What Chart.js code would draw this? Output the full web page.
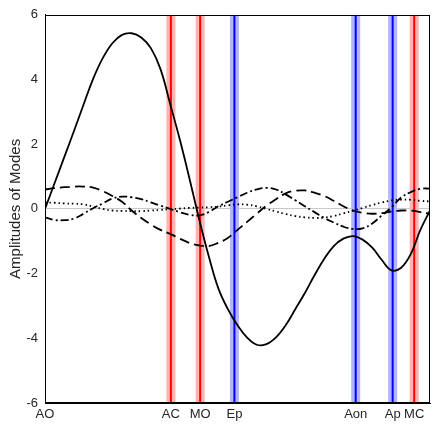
<!DOCTYPE html>
<html>
<head>
<meta charset="utf-8">
<script src="https://cdn.jsdelivr.net/npm/chart.js@4"></script>
<style>
  html, body { margin: 0; padding: 0; background: #fff; }
  #wrap { width: 434px; height: 426px; }
</style>
</head>
<body>
<div id="wrap"><canvas id="myChart" width="434" height="426"></canvas></div>
<script>
// position along the tract (0 = AO, 100 = end), sampled every 2.5
var xs = [0, 2.5, 5, 7.5, 10, 12.5, 15, 17.5, 20, 22.5, 25, 27.5, 30, 32.5, 35, 37.5, 40,
          42.5, 45, 47.5, 50, 52.5, 55, 57.5, 60, 62.5, 65, 67.5, 70, 72.5, 75, 77.5, 80,
          82.5, 85, 87.5, 90, 92.5, 95, 97.5, 100];

var mode1 = [0.0, 0.8, 1.6, 2.4, 3.22, 4.02, 4.66, 5.12, 5.38, 5.43, 5.3, 4.97, 4.32, 3.25, 2.15, 0.95, -0.3,
             -1.45, -2.45, -3.1, -3.6, -3.98, -4.2, -4.18, -3.97, -3.6, -3.1, -2.6, -2.05, -1.55, -1.15, -0.92, -0.84,
             -0.95, -1.2, -1.58, -1.9, -1.82, -1.4, -0.65, -0.05];
var mode2 = [0.6, 0.64, 0.67, 0.69, 0.69, 0.66, 0.55, 0.4, 0.22, -0.05, -0.28, -0.48, -0.65, -0.77, -0.92, -1.05, -1.13,
             -1.15, -1.05, -0.9, -0.65, -0.4, -0.15, 0.1, 0.3, 0.48, 0.56, 0.57, 0.5, 0.4, 0.25, 0.08, -0.05,
             -0.12, -0.15, -0.13, -0.08, -0.05, -0.05, -0.1, -0.15];
var mode3 = [-0.26, -0.34, -0.35, -0.3, -0.15, 0.02, 0.17, 0.32, 0.38, 0.36, 0.3, 0.2, 0.1, 0.0, -0.1, -0.18, -0.2,
             -0.1, 0.08, 0.22, 0.36, 0.5, 0.6, 0.65, 0.6, 0.45, 0.27, 0.08, -0.1, -0.28, -0.42, -0.55, -0.62,
             -0.6, -0.45, -0.2, 0.05, 0.35, 0.52, 0.62, 0.63];
var mode4 = [0.2, 0.19, 0.17, 0.16, 0.14, 0.07, 0.0, -0.05, -0.06, -0.07, -0.07, -0.05, -0.03, -0.01, 0.01, 0.03, 0.04,
             0.05, 0.07, 0.11, 0.14, 0.13, 0.08, 0.0, -0.08, -0.16, -0.22, -0.26, -0.28, -0.27, -0.22, -0.14, -0.06,
             0.03, 0.12, 0.2, 0.26, 0.29, 0.28, 0.25, 0.23];

// landmarks on the x axis
var landmarkNames = ["AO", "AC", "MO", "Ep", "Aon", "Ap", "MC"];
var landmarkPos = [0, 32.7, 40.3, 49.2, 80.7, 90.3, 95.9];
var redMarks = ["AC", "MO", "MC"];
var blueMarks = ["Ep", "Aon", "Ap"];

var yTicks = [-6, -4, -2, 0, 2, 4, 6];

function series(vals) {
    return xs.map(function (x, i) { return { x: x, y: vals[i] }; });
}

var datasets = [
    { data: series(mode1), borderColor: '#000', borderWidth: 1.8 },
    { data: series(mode2), borderColor: '#000', borderWidth: 1.8, borderDash: [10, 5] },
    { data: series(mode3), borderColor: '#000', borderWidth: 1.8, borderDash: [8, 3, 2, 3] },
    { data: series(mode4), borderColor: '#000', borderWidth: 1.8, borderDash: [1.5, 3] },
];
datasets.forEach(function (d) { d.tension = 0.4; });

// vertical marker bands (pale wide line + thin core line)
landmarkNames.forEach(function (name, i) {
    var isRed = redMarks.indexOf(name) >= 0;
    var isBlue = blueMarks.indexOf(name) >= 0;
    if (!isRed && !isBlue) return;
    var line = [{ x: landmarkPos[i], y: -6 }, { x: landmarkPos[i], y: 6 }];
    datasets.push({ data: line, borderColor: isRed ? '#ff0000' : '#0000ff', borderWidth: 2 });
    datasets.push({ data: line, borderColor: isRed ? '#ffb3b3' : '#b3b3ff', borderWidth: 9 });
});

datasets.forEach(function (d) {
    d.pointRadius = 0;
    d.fill = false;
    d.borderCapStyle = 'butt';
});

var boxPlugin = {
    id: 'box',
    afterDatasetsDraw: function (chart) {
        var a = chart.chartArea, c = chart.ctx;
        c.save();
        c.strokeStyle = '#000';
        c.lineWidth = 1;
        c.strokeRect(Math.round(a.left) + 0.5, Math.round(a.top) + 0.5,
                     Math.round(a.right - a.left) - 1, Math.round(a.bottom - a.top) - 1);
        c.restore();
    }
};

var ctx = document.getElementById('myChart').getContext('2d');
var myChart = new Chart(ctx, {
    type: 'line',
    data: { datasets: datasets },
    plugins: [boxPlugin],
    options: {
        responsive: false,
        animation: false,
        layout: { padding: { left: 0, right: 4, top: 10, bottom: 0 } },
        plugins: { legend: { display: false }, tooltip: { enabled: false } },
        scales: {
            x: {
                type: 'linear',
                min: 0,
                max: 100,
                afterBuildTicks: function (axis) {
                    axis.ticks = landmarkPos.map(function (v) { return { value: v }; });
                },
                afterFit: function (axis) { axis.height = 23; },
                grid: { display: false, drawTicks: false },
                border: { display: true, color: '#000' },
                ticks: {
                    autoSkip: false,
                    maxRotation: 0,
                    padding: 4,
                    color: '#262626',
                    font: { family: 'Liberation Sans', size: 13 },
                    callback: function (v) {
                        var i = landmarkPos.indexOf(v);
                        return i >= 0 ? landmarkNames[i] : '';
                    }
                }
            },
            y: {
                min: -6,
                max: 6,
                afterBuildTicks: function (axis) {
                    axis.ticks = yTicks.map(function (v) { return { value: v }; });
                },
                afterFit: function (axis) { axis.width = 45; },
                grid: {
                    drawTicks: false,
                    color: function (c) { return c.tick && c.tick.value === 0 ? '#c8c8c8' : 'rgba(0,0,0,0)'; }
                },
                border: { display: true, color: '#000' },
                ticks: {
                    padding: 7,
                    color: '#262626',
                    font: { family: 'Liberation Sans', size: 13 }
                },
                title: {
                    display: true,
                    text: 'Amplitudes of Modes',
                    color: '#262626',
                    font: { family: 'Liberation Sans', size: 15 },
                    padding: { top: 7, bottom: 0 }
                }
            }
        }
    }
});
</script>
</body>
</html>
